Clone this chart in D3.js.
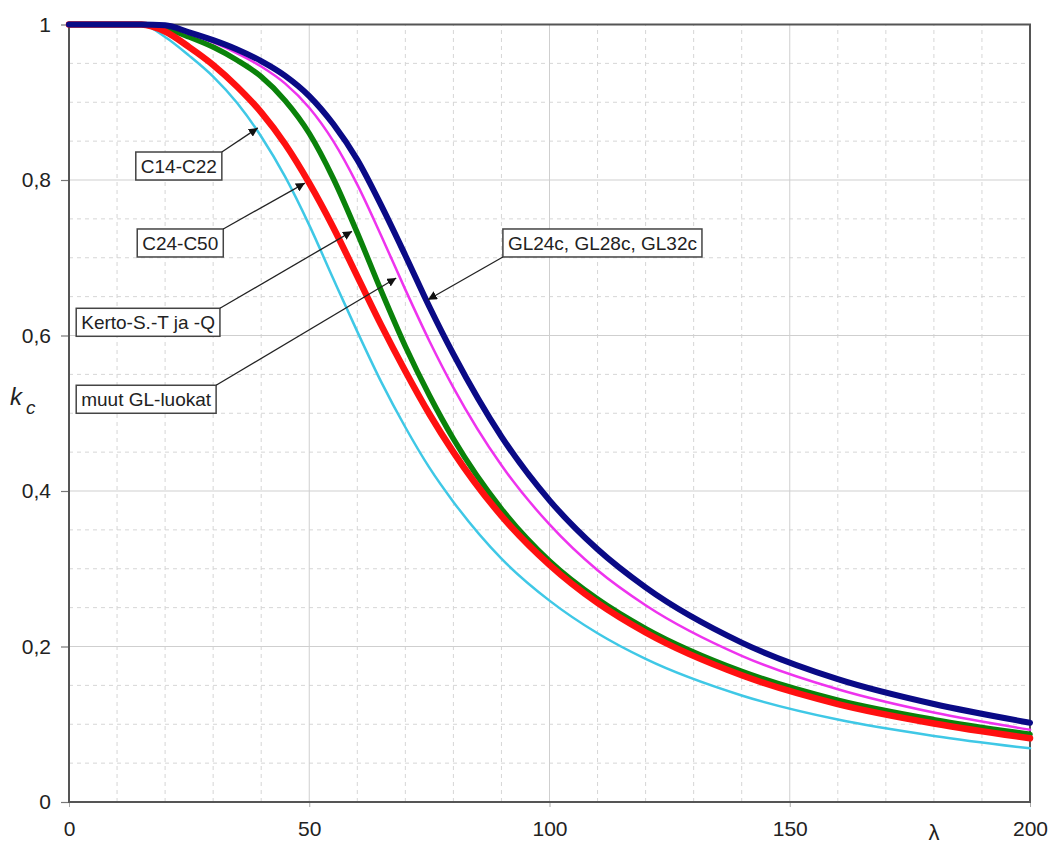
<!DOCTYPE html>
<html lang="fi">
<head>
<meta charset="UTF-8">
<title>kc - lambda</title>
<script src="https://d3js.org/d3.v7.min.js"></script>
<style>
  body { margin: 0; background: #fff; }
  text { font-family: "Liberation Sans", Arial, sans-serif; fill: #222; }
  .grid-major { stroke: #cfcfcf; stroke-width: 1; }
  .grid-minor { stroke: #d6d6d6; stroke-width: 1; stroke-dasharray: 4,4; }
  .frame { fill: none; stroke: #555; stroke-width: 2; }
  .curve { fill: none; stroke-linejoin: round; stroke-linecap: round; }
  .box { fill: #fff; stroke: #444; stroke-width: 1.5; }
  .arrow { stroke: #222; stroke-width: 1.3; }
</style>
</head>
<body>
<script>
// slenderness ratio lambda
const lambda = [0, 10, 15, 20, 25, 30, 35, 40, 45, 50, 55, 60, 65, 70, 75, 80, 90, 100, 110, 120, 140, 160, 180, 200];

// kc values
const kcC14 = [1, 1, 1, .984, .960, .933, .899, .856, .804, .742, .673, .605, .540, .482, .430, .386, .313, .259, .217, .184, .137, .106, .085, .069];
const kcC24 = [1, 1, 1, .991, .971, .948, .920, .887, .846, .796, .739, .676, .613, .554, .499, .450, .368, .305, .256, .218, .163, .126, .101, .082];
const kcKerto = [1, 1, 1, .995, .984, .971, .954, .933, .902, .860, .802, .732, .657, .586, .523, .467, .377, .310, .261, .223, .168, .131, .106, .087];
const kcGLh = [1, 1, 1, .998, .988, .977, .963, .946, .924, .893, .850, .794, .728, .659, .593, .533, .433, .357, .298, .253, .188, .145, .115, .093];
const kcGLc = [1, 1, 1, .999, .990, .980, .968, .953, .934, .908, .872, .826, .767, .703, .637, .576, .470, .388, .325, .276, .205, .158, .126, .102];

// draw order: bottom first
const seriesNames = ["C14-C22", "Kerto", "C24-C50", "GLh", "GLc"];
const seriesValues = [kcC14, kcKerto, kcC24, kcGLh, kcGLc];
const seriesColors = ["#3fc8e6", "#0a820a", "#ff1010", "#ee33ee", "#0a0a86"];
const seriesWidths = [2.5, 5.5, 6.5, 2.5, 6];

const xTicks = [0, 50, 100, 150, 200];
const yTicks = [0, 0.2, 0.4, 0.6, 0.8, 1];
const yTickLabels = ["0", "0,2", "0,4", "0,6", "0,8", "1"];

// annotations (data units)
const annoText = ["C14-C22", "C24-C50", "Kerto-S.-T ja -Q", "muut GL-luokat", "GL24c, GL28c, GL32c"];
const annoBoxX = [13.9, 14.2, 1.5, 1.5, 90.3];
const annoBoxY = [0.836, 0.737, 0.635, 0.536, 0.737];
const annoTipX = [39.3, 49.1, 58.9, 68.1, 74.7];
const annoTipY = [0.867, 0.796, 0.734, 0.674, 0.646];
const annoFrom = ["tr", "tr", "tr", "tr", "bl"];

const width = 1052, height = 848;
const margin = {top: 24.5, right: 22, bottom: 46, left: 69};
const innerW = width - margin.left - margin.right;
const innerH = height - margin.top - margin.bottom;

const svg = d3.select("body").append("svg")
    .attr("width", width)
    .attr("height", height);

const x = d3.scaleLinear().domain([0, 200]).range([margin.left, margin.left + innerW]);
const y = d3.scaleLinear().domain([0, 1]).range([margin.top + innerH, margin.top]);

// minor grid
const grid = svg.append("g");
grid.selectAll(".vminor")
    .data(d3.range(10, 200, 10).filter(d => d % 50 !== 0))
    .join("line")
    .attr("class", "grid-minor")
    .attr("x1", d => x(d)).attr("x2", d => x(d))
    .attr("y1", y(0)).attr("y2", y(1));
grid.selectAll(".hminor")
    .data(d3.range(1, 20).map(d => d * 0.05).filter((d, i) => (i + 1) % 4 !== 0))
    .join("line")
    .attr("class", "grid-minor")
    .attr("x1", x(0)).attr("x2", x(200))
    .attr("y1", d => y(d)).attr("y2", d => y(d));

// major grid
grid.selectAll(".vmajor")
    .data(xTicks.slice(1, -1))
    .join("line")
    .attr("class", "grid-major")
    .attr("x1", d => x(d)).attr("x2", d => x(d))
    .attr("y1", y(0)).attr("y2", y(1));
grid.selectAll(".hmajor")
    .data(yTicks.slice(1, -1))
    .join("line")
    .attr("class", "grid-major")
    .attr("x1", x(0)).attr("x2", x(200))
    .attr("y1", d => y(d)).attr("y2", d => y(d));

// axes
const yAxis = d3.axisLeft(y).tickValues(yTicks)
    .tickFormat((d, i) => yTickLabels[i])
    .tickSize(8).tickPadding(10);
svg.append("g")
    .attr("transform", `translate(${margin.left},0)`)
    .call(yAxis)
    .call(g => g.select(".domain").remove())
    .call(g => g.selectAll("line").attr("stroke", "#777").attr("stroke-width", 1.2))
    .call(g => g.selectAll("text")
        .attr("font-family", '"Liberation Sans", Arial, sans-serif')
        .attr("font-size", 21).attr("fill", "#222"));

const xAxis = d3.axisBottom(x).tickValues(xTicks)
    .tickFormat(d3.format("d"))
    .tickSize(5).tickPadding(14);
svg.append("g")
    .attr("transform", `translate(0,${margin.top + innerH})`)
    .call(xAxis)
    .call(g => g.select(".domain").remove())
    .call(g => g.selectAll("line").attr("stroke", "#aaa"))
    .call(g => g.selectAll("text")
        .attr("font-family", '"Liberation Sans", Arial, sans-serif')
        .attr("font-size", 21).attr("fill", "#222"));

// frame
svg.append("rect")
    .attr("class", "frame")
    .attr("x", x(0)).attr("y", y(1))
    .attr("width", x(200) - x(0))
    .attr("height", y(0) - y(1));

// axis titles
svg.append("text")
    .attr("x", x(180))
    .attr("y", 840)
    .attr("text-anchor", "middle")
    .attr("font-size", 22)
    .text("λ");

const kt = svg.append("text")
    .attr("x", 10)
    .attr("y", 405)
    .attr("font-style", "italic")
    .attr("font-size", 24);
kt.append("tspan").text("k");
kt.append("tspan").attr("dx", 4).attr("dy", 9).attr("font-size", 19).text("c");

// curves
const line = d3.line()
    .x((d, i) => x(lambda[i]))
    .y(d => y(d))
    .curve(d3.curveMonotoneX);

svg.append("g")
    .selectAll("path")
    .data(seriesValues)
    .join("path")
    .attr("class", "curve")
    .attr("stroke", (d, i) => seriesColors[i])
    .attr("stroke-width", (d, i) => seriesWidths[i])
    .attr("d", line);

// arrow head
svg.append("defs").append("marker")
    .attr("id", "head")
    .attr("viewBox", "0 0 10 10")
    .attr("refX", 10).attr("refY", 5)
    .attr("markerWidth", 9).attr("markerHeight", 9)
    .attr("markerUnits", "userSpaceOnUse")
    .attr("orient", "auto")
    .append("path")
    .attr("d", "M0,0 L10,5 L0,10 z")
    .attr("fill", "#111");

// annotations
const boxH = 28, pad = 5;
const anno = svg.append("g");
annoText.forEach((t, i) => {
    const g = anno.append("g");
    const bx = x(annoBoxX[i]), by = y(annoBoxY[i]);
    const rect = g.append("rect").attr("class", "box");
    const txt = g.append("text")
        .attr("x", bx + pad)
        .attr("y", by + boxH / 2)
        .attr("dy", "0.35em")
        .attr("font-size", 19)
        .text(t);
    const w = txt.node().getComputedTextLength() + pad * 2;
    rect.attr("x", bx).attr("y", by).attr("width", w).attr("height", boxH);
    const sx = annoFrom[i] === "tr" ? bx + w : bx;
    const sy = annoFrom[i] === "tr" ? by : by + boxH;
    g.append("line")
        .attr("class", "arrow")
        .attr("x1", sx).attr("y1", sy)
        .attr("x2", x(annoTipX[i])).attr("y2", y(annoTipY[i]))
        .attr("marker-end", "url(#head)");
});
</script>
</body>
</html>
